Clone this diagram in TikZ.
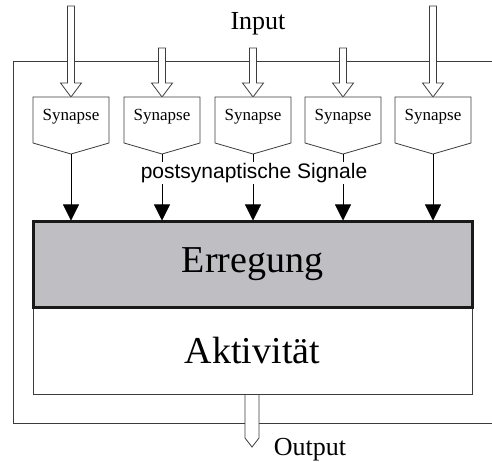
\documentclass[tikz,border=0pt]{standalone}
\usepackage{fontspec}
\setmainfont{Liberation Serif}
\newfontfamily\signalfont{Liberation Sans}
\usepackage{tikz}
\usetikzlibrary{arrows.meta}
\definecolor{lineGray}{RGB}{60,60,60}
\definecolor{erregungGray}{RGB}{190,190,195}

\begin{document}
\begin{tikzpicture}
                        [
                            x=1pt, y=-1pt,
                            frame style/.style={draw=lineGray, line width=0.8pt},
                            synapse style/.style={draw=lineGray, line width=0.8pt, fill=white},
                            hollow style/.style={draw=lineGray, line width=0.8pt, fill=white},
                            signal style/.style={-{Triangle[length=16pt,width=16pt]}, line width=0.8pt},
                            label style/.style={font=\fontsize{17}{19}\selectfont}
                        ]
                        \useasboundingbox (0,0) rectangle (492,462);
                        % outer frame, open to the right
                        \draw[frame style] (492,61) -- (13,61) -- (13,423) -- (492,423);
                        % Aktivitaet and Erregung blocks
                        \node[draw=lineGray, line width=0.8pt, fill=white, minimum width=439pt, minimum height=87pt, inner sep=0pt,
                              font=\fontsize{38}{40}\selectfont] (aktiv) at (252.5,350.5) {Aktivität};
                        \node[draw=black!90, line width=3pt, fill=erregungGray, minimum width=439pt, minimum height=85pt, inner sep=0pt,
                              font=\fontsize{38}{40}\selectfont] (erreg) at (252.5,264.5) {Erregung};
                        % synapses with their input arrows
                        \foreach \x/\top [count=\i] in {71/6,162/48,253/48,343/48,433/6} {
                            \draw[hollow style] (\x-3.5,\top) -- (\x+3.5,\top) -- (\x+3.5,83) -- (\x+10.5,83)
                                -- (\x,97) -- (\x-10.5,83) -- (\x-3.5,83) -- cycle;
                            \draw[synapse style] (\x-38,97) -- (\x+38,97) -- (\x+38,143) -- (\x,154)
                                -- (\x-38,143) -- cycle;
                            \coordinate (tip\i) at (\x,154);
                            \node[label style, anchor=base] (syn\i) at (\x,121) {Synapse};
                            \draw[signal style] (tip\i) -- (tip\i |- erreg.north);
                        }
                        \node[font=\signalfont\fontsize{21}{23}\selectfont, fill=white, inner sep=1pt] (signale) at (254,173) {postsynaptische Signale};
                        % output arrow
                        \coordinate (out) at (252,447);
                        \draw[hollow style] (aktiv.south -| 245,0) -- (aktiv.south -| 259,0) -- (259,438) -- (out) -- (245,438) -- cycle;
                        \node[font=\fontsize{26}{28}\selectfont, anchor=base] (output) at (310,455) {Output};
                        \node[font=\fontsize{26}{28}\selectfont, anchor=base] (input) at (258,30) {Input};
                        \end{tikzpicture}
\end{document}
